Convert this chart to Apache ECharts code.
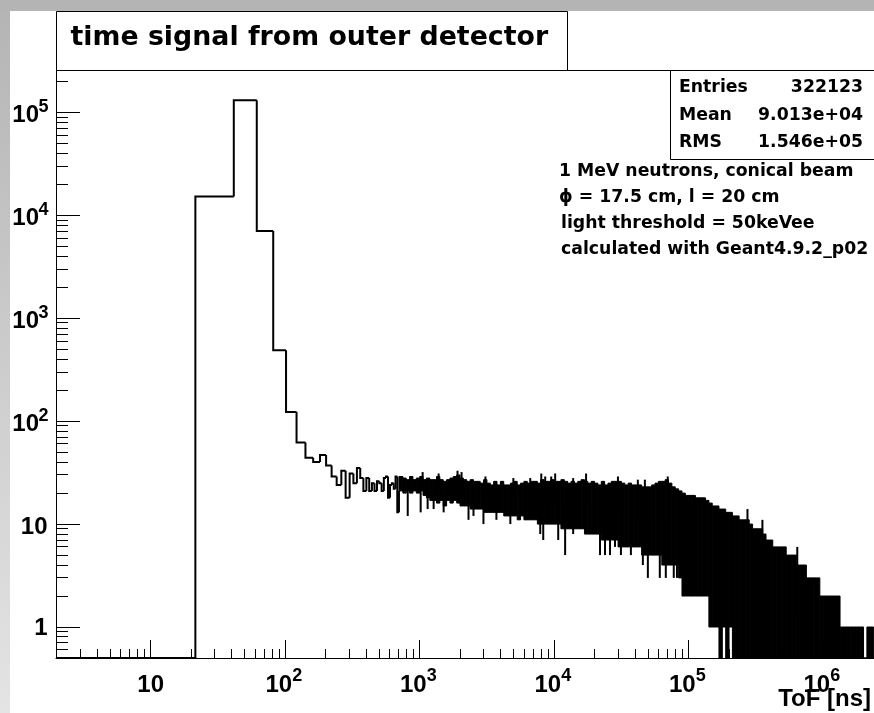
<!DOCTYPE html>
<html>
<head>
<meta charset="utf-8">
<title>time signal from outer detector</title>
<style>
  html, body { margin: 0; padding: 0; background: #fff; }
  #chart { width: 874px; height: 713px; }
</style>
<script src="https://cdn.jsdelivr.net/npm/echarts@6/dist/echarts.min.js"></script>
</head>
<body>
<div id="chart"></div>
<script>
// ---- histogram: fixed 20 ns bins, first edge at 1.5 ns ----
const binWidth = 20;
const firstEdge = 1.5;
const stepCounts = [0, 15200, 131500, 7040, 489, 123, 62, 44, 40, 47, 37, 29, 24, 33, 18, 31, 25, 35, 28,
  21, 28, 21, 25, 21, 26, 25, 21, 28, 29, 18, 24, 25, 22, 29, 13];

// ---- long-time tail: bins too narrow to resolve, kept as per-column max / min content ----
const denseEdges = [701.5, 750, 794, 841, 891, 944,
  1000, 1059, 1122, 1189, 1259, 1334, 1413, 1496, 1585, 1679, 1778, 1884, 1995, 2113, 2239, 2371, 2512, 2661, 2818, 2985,
  3162, 3350, 3548, 3758, 3981, 4217, 4467, 4732, 5012, 5309, 5623, 5957, 6310, 6683, 7079, 7499, 7943, 8414, 8913, 9441,
  10000, 10590, 11220, 11890, 12590, 13340, 14130, 14960, 15850, 16790, 17780, 18840, 19950, 21130, 22390, 23710, 25120, 26610, 28180, 29850,
  31620, 33500, 35480, 37580, 39810, 42170, 44670, 47320, 50120, 53090, 56230, 59570, 63100, 66830, 70790, 74990, 79430, 84140, 89130, 94410,
  100000, 105900, 112200, 118900, 125900, 133400, 141300, 149600, 158500, 167900, 177800, 188400, 199500, 211300, 223900, 237100, 251200, 266100, 281800, 298500,
  316200, 335000, 354800, 375800, 398100, 421700, 446700, 473200, 501200, 530900, 562300, 595700, 631000, 668300, 707900, 749900, 794300, 841400, 891300, 944100,
  1000000, 1059000, 1122000, 1189000, 1259000, 1334000, 1413000, 1496000, 1585000, 1679000, 1778000, 1884000, 1995000, 2113000, 2239000, 2371000];
const denseMax = [29, 28, 27, 29, 27, 28, 29, 27, 28, 27,
  27, 29, 27, 26, 27, 28, 29, 30, 28, 27,
  26, 27, 26, 26, 25, 27, 25, 24, 26, 24,
  26, 24, 24, 25, 26, 24, 25, 26, 25, 26,
  26, 25, 27, 26, 26, 27, 26, 26, 27, 26,
  25, 26, 25, 26, 27, 26, 25, 26, 25, 24,
  26, 24, 25, 26, 26, 26, 25, 24, 25, 24,
  24, 24, 23, 23, 23, 24, 25, 26, 26, 27,
  25, 23, 22, 21, 20, 19, 19, 19, 18, 18,
  18, 17, 16, 15, 15, 14, 14, 13, 13, 12,
  12, 11, 11, 11, 10, 9, 9, 9, 8, 7,
  7, 6, 6, 6, 6, 5, 5, 5, 4, 4,
  4, 3, 3, 3, 3, 2, 2, 2, 2, 2,
  2, 1, 1, 1, 1, 1, 1, 1, 0, 1, 1];
const denseMin = [21, 20, 21, 20, 21, 20, 21, 19, 18, 17,
  17, 16, 17, 15, 17, 16, 17, 16, 15, 15,
  15, 14, 14, 14, 14, 13, 13, 13, 13, 13,
  13, 12, 12, 12, 12, 11, 12, 11, 11, 11,
  11, 10, 10, 10, 10, 10, 10, 10, 9, 9,
  9, 9, 9, 9, 9, 8, 8, 8, 8, 8,
  7, 7, 7, 7, 7, 6, 6, 6, 6, 6,
  6, 6, 5, 5, 5, 5, 5, 5, 4, 4,
  4, 4, 4, 3, 2, 2, 2, 2, 2, 2,
  2, 2, 1, 1, 1, 0, 1, 0, 1, 0,
  0, 0, 0, 0, 0, 0, 0, 0, 0, 0,
  0, 0, 0, 0, 0, 0, 0, 0, 0, 0,
  0, 0, 0, 0, 0, 0, 0, 0, 0, 0,
  0, 0, 0, 0, 0, 0, 0, 0, 0, 0, 0];

// single bins sticking out of the column envelope
const spikeTime = [815, 1017, 1146, 1270, 1507, 2307, 2512, 2979, 3719, 4721, 7876, 8292, 10715, 12060, 13840,
  21920, 23870, 25990, 28310, 31350, 37180, 45630, 49710, 60990, 67580, 77440, 81800,
  1052, 1383, 1911, 2048, 3083, 4970, 6637, 8017, 8576, 9506, 10170, 13840, 17260, 29790, 41880, 47230, 69860,
  273500, 353200, 641500];
const spikeCount = [12, 13, 14, 14, 13, 11, 12, 10, 11, 10, 8, 7, 7, 5, 8,
  5, 5, 5, 6, 5, 5, 4, 3, 3, 3, 3, 3,
  32, 31, 33, 32, 29, 28, 28, 31, 29, 29, 31, 28, 31, 29, 27, 27, 29,
  14, 11, 6];

// axis ranges and decade labels
const xMin = 1.978, xMax = 2.386e6;
const yMin = 0.5, yMax = 2.58e5;
const xLabelExp = [1, 2, 3, 4, 5, 6];
const yLabelExp = [0, 1, 2, 3, 4, 5];

// statistics box and notes
const statNames = ['Entries', 'Mean', 'RMS'];
const statValues = ['322123', '9.013e+04', '1.546e+05'];
const noteLines = ['1 MeV neutrons, conical beam', '\u03d5 = 17.5 cm, l = 20 cm',
  'light threshold = 50keVee', 'calculated with Geant4.9.2_p02'];

const histTitle = 'time signal from outer detector';
const xTitle = 'ToF [ns]';

const LABEL_FONT = '"Liberation Sans", Arial, Helvetica, sans-serif';
const TEXT_FONT = '"DejaVu Sans", sans-serif';

// ---- build series data ----
const stepData = stepCounts.map((c, k) => {
  const lo = firstEdge + k * binWidth;
  return [lo, lo + binWidth, c, k > 0 ? stepCounts[k - 1] : 0];
});
const lastStep = stepCounts[stepCounts.length - 1];
const bandData = denseMax.map((hi, i) => [denseEdges[i], denseEdges[i + 1], hi, denseMin[i], i === 0 ? lastStep : -1]);

function columnOf(t) {
  for (let i = 0; i < denseMax.length; i++) {
    if (t >= denseEdges[i] && t < denseEdges[i + 1]) return i;
  }
  return denseMax.length - 1;
}
const clampY = v => Math.max(v, yMin);
const spikeData = spikeTime.map((t, j) => {
  const i = columnOf(t);
  const ref = Math.sqrt(clampY(denseMax[i]) * clampY(denseMin[i]));
  return [t, spikeCount[j], ref];
});

// tick positions: decades and 2..9 subdivisions inside the axis ranges
function tickList(lo, hi, nFrom, nTo) {
  const out = [];
  for (let n = nFrom; n <= nTo; n++) {
    for (let k = 1; k <= 9; k++) {
      const v = k * Math.pow(10, n);
      if (v > lo * 1.0001 && v < hi) out.push([v, k === 1 ? 1 : 0]);
    }
  }
  return out;
}
const yTicks = tickList(yMin, yMax, -1, 5);
const xTicks = tickList(xMin, xMax, 0, 6);

const crisp = v => Math.round(v - 0.5) + 0.5;

const textStyle = (text, size, family, align) => ({
  text, fill: '#000', font: 'bold ' + size + 'px ' + family,
  align, textAlign: align, verticalAlign: 'middle', textVerticalAlign: 'middle'
});

const chart = echarts.init(document.getElementById('chart'));

chart.setOption({
  backgroundColor: '#ffffff',
  animation: false,
  grid: { left: 56, top: 70, width: 821, height: 588, containLabel: false },
  xAxis: {
    type: 'log', logBase: 10, min: xMin, max: xMax,
    axisLine: { show: true, onZero: false, lineStyle: { color: '#000', width: 1 } },
    axisTick: { show: false }, axisLabel: { show: false }, splitLine: { show: false }
  },
  yAxis: {
    type: 'log', logBase: 10, min: yMin, max: yMax,
    axisLine: { show: true, onZero: false, lineStyle: { color: '#000', width: 1 } },
    axisTick: { show: false }, axisLabel: { show: false }, splitLine: { show: false }
  },
  series: [
    {
      // tick marks on the left axis, pointing into the frame
      type: 'custom', name: 'yTicks', z: 1, silent: true, clip: false,
      encode: { y: 0 },
      data: yTicks,
      renderItem: (params, api) => {
        const p = api.coord([xMin, api.value(0)]);
        const len = api.value(1) ? 24 : 12;
        const y = crisp(p[1]);
        return { type: 'line', shape: { x1: p[0], y1: y, x2: p[0] + len, y2: y },
          style: { stroke: '#000', lineWidth: 1 } };
      }
    },
    {
      // tick marks on the bottom axis
      type: 'custom', name: 'xTicks', z: 1, silent: true, clip: false,
      encode: { x: 0 },
      data: xTicks,
      renderItem: (params, api) => {
        const p = api.coord([api.value(0), yMin]);
        const len = api.value(1) ? 18 : 9;
        const x = crisp(p[0]);
        return { type: 'line', shape: { x1: x, y1: p[1], x2: x, y2: p[1] - len },
          style: { stroke: '#000', lineWidth: 1 } };
      }
    },
    {
      // y decade labels: 1, 10, 10^2 ...
      type: 'custom', name: 'yLabels', z: 3, silent: true, clip: false,
      encode: { y: 0 },
      data: yLabelExp.map(n => [Math.pow(10, n), n]),
      renderItem: (params, api) => {
        const p = api.coord([xMin, api.value(0)]);
        const n = api.value(1);
        if (n < 2) {
          return { type: 'text', x: p[0] - 8.5, y: p[1] + (n === 0 ? 1 : 3),
            style: textStyle(n === 0 ? '1' : '10', 24, LABEL_FONT, 'right') };
        }
        return { type: 'group', children: [
          { type: 'text', x: p[0] - 17, y: p[1] + 3, style: textStyle('10', 24, LABEL_FONT, 'right') },
          { type: 'text', x: p[0] - 7.5, y: p[1] - 5, style: textStyle(String(n), 18, LABEL_FONT, 'right') }
        ] };
      }
    },
    {
      // x decade labels
      type: 'custom', name: 'xLabels', z: 3, silent: true, clip: false,
      encode: { x: 0 },
      data: xLabelExp.map(n => [Math.pow(10, n), n]),
      renderItem: (params, api) => {
        const p = api.coord([api.value(0), yMin]);
        const n = api.value(1);
        if (n === 1) {
          return { type: 'text', x: p[0], y: p[1] + 27, style: textStyle('10', 24, LABEL_FONT, 'center') };
        }
        return { type: 'group', children: [
          { type: 'text', x: p[0] + 7, y: p[1] + 27, style: textStyle('10', 24, LABEL_FONT, 'right') },
          { type: 'text', x: p[0] + 7, y: p[1] + 18.5, style: textStyle(String(n), 18, LABEL_FONT, 'left') }
        ] };
      }
    },
    {
      // resolved bins drawn as a step outline
      type: 'custom', name: 'hist', z: 5, silent: true, clip: true,
      encode: { x: [0, 1], y: [2, 3] },
      data: stepData,
      renderItem: (params, api) => {
        const lo = api.value(0), hi = api.value(1);
        const c = clampY(api.value(2)), prev = clampY(api.value(3));
        const a = api.coord([lo, prev]), b = api.coord([lo, c]), d = api.coord([hi, c]);
        return { type: 'polyline', shape: { points: [a, b, d] },
          style: { stroke: '#000', lineWidth: 2, fill: null, lineJoin: 'miter' } };
      }
    },
    {
      // unresolved tail: filled band between column min and max
      type: 'custom', name: 'tail', z: 5, silent: true, clip: true,
      encode: { x: [0, 1], y: [2, 3] },
      data: bandData,
      renderItem: (params, api) => {
        const x0 = api.value(0), x1 = api.value(1);
        const hi = clampY(api.value(2)), lo = clampY(api.value(3));
        const t = api.coord([x0, hi]), b = api.coord([x1, lo]);
        const children = [{ type: 'rect',
          shape: { x: t[0], y: t[1], width: b[0] - t[0], height: b[1] - t[1] },
          style: { fill: '#000', stroke: '#000', lineWidth: 1 } }];
        const join = api.value(4);
        if (join >= 0) {
          const j = api.coord([x0, clampY(join)]), e = api.coord([x0, lo]);
          children.push({ type: 'line', shape: { x1: j[0], y1: j[1], x2: e[0], y2: e[1] },
            style: { stroke: '#000', lineWidth: 2 } });
        }
        return { type: 'group', children };
      }
    },
    {
      type: 'custom', name: 'spikes', z: 5, silent: true, clip: true,
      encode: { x: 0, y: [1, 2] },
      data: spikeData,
      renderItem: (params, api) => {
        const a = api.coord([api.value(0), clampY(api.value(1))]);
        const b = api.coord([api.value(0), api.value(2)]);
        return { type: 'line', shape: { x1: a[0], y1: a[1], x2: b[0], y2: b[1] },
          style: { stroke: '#000', lineWidth: 2 } };
      }
    }
  ],
  graphic: {
    elements: [
      // canvas border shading
      { type: 'rect', z: -10, silent: true, shape: { x: 0, y: 0, width: 10, height: 713 },
        style: { fill: new echarts.graphic.LinearGradient(0, 0, 0, 1, [
          { offset: 0, color: '#b4b4b4' }, { offset: 1, color: '#e4e4e4' }]) } },
      { type: 'rect', z: -10, silent: true, shape: { x: 0, y: 0, width: 874, height: 11 },
        style: { fill: '#b4b4b4' } },
      // frame top edge
      { type: 'line', z: 50, silent: true, shape: { x1: 56, y1: 70.5, x2: 874, y2: 70.5 },
        style: { stroke: '#000', lineWidth: 1 } },
      // title box
      { type: 'rect', z: 60, silent: true, shape: { x: 56.5, y: 11.5, width: 511, height: 59 },
        style: { fill: '#fff', stroke: '#000', lineWidth: 1 } },
      { type: 'text', z: 61, silent: true, x: 70.5, y: 38.5, style: textStyle(histTitle, 26.8, TEXT_FONT, 'left') },
      // statistics box
      { type: 'rect', z: 60, silent: true, shape: { x: 670.5, y: 70.5, width: 220, height: 89 },
        style: { fill: '#fff', stroke: '#000', lineWidth: 1 } },
      ...statNames.map((s, i) => ({ type: 'text', z: 61, silent: true, x: 679, y: 88 + i * 27.5,
        style: textStyle(s, 17.3, TEXT_FONT, 'left') })),
      ...statValues.map((s, i) => ({ type: 'text', z: 61, silent: true, x: 863, y: 88 + i * 27.5,
        style: textStyle(s, 17.3, TEXT_FONT, 'right') })),
      // simulation notes
      ...noteLines.map((s, i) => ({ type: 'text', z: 61, silent: true, x: i < 2 ? 559 : 561, y: 171.5 + i * 26,
        style: textStyle(s, 17.3, TEXT_FONT, 'left') })),
      // x axis title
      { type: 'text', z: 61, silent: true, x: 871, y: 699, style: textStyle(xTitle, 24, LABEL_FONT, 'right') }
    ]
  }
});
</script>
</body>
</html>
